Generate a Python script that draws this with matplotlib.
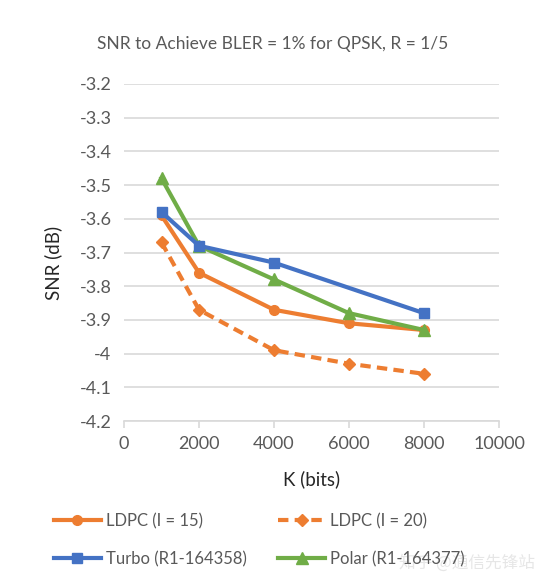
import numpy as np
import matplotlib.pyplot as plt

# data
k_bits = [1000, 2000, 4000, 6000, 8000]
ldpc_15 = [-3.59, -3.76, -3.87, -3.91, -3.93]
ldpc_20 = [-3.67, -3.87, -3.99, -4.03, -4.06]
turbo_k = [1000, 2000, 4000, 8000]
turbo = [-3.58, -3.68, -3.73, -3.88]
polar = [-3.48, -3.68, -3.78, -3.88, -3.93]

x_ticks = [0, 2000, 4000, 6000, 8000, 10000]
y_ticks = [-4.2, -4.1, -4.0, -3.9, -3.8, -3.7, -3.6, -3.5, -3.4, -3.3, -3.2]
y_tick_labels = ['-4.2', '-4.1', '-4', '-3.9', '-3.8', '-3.7', '-3.6', '-3.5', '-3.4', '-3.3', '-3.2']

plt.rcParams['font.family'] = ['Lato', 'DejaVu Sans']

text_col = '#595959'
label_col = '#262626'
grid_col = '#d9d9d9'
orange = '#ed7d31'
blue = '#4472c4'
green = '#70ad47'

fig = plt.figure(figsize=(5.46, 5.85), dpi=100)
ax = fig.add_axes([124 / 546, 1 - 421 / 585, 375 / 546, 337 / 585])

l15, = ax.plot(k_bits, ldpc_15, color=orange, linewidth=3, marker='o', markersize=7,
               label='LDPC (I = 15)', zorder=3)
l20, = ax.plot(k_bits, ldpc_20, color=orange, linewidth=3, linestyle=(0, (2.5, 1.5)),
               marker='D', markersize=6, label='LDPC (I = 20)', zorder=3)
lt, = ax.plot(turbo_k, turbo, color=blue, linewidth=3, marker='s', markersize=7,
              label='Turbo (R1-164358)', zorder=4)
lp, = ax.plot(k_bits, polar, color=green, linewidth=3, marker='^', markersize=8,
              label='Polar (R1-164377)', zorder=3)

ax.set_xlim(0, 10000)
ax.set_ylim(-4.2, -3.2)
ax.set_xticks(x_ticks)
ax.set_xticklabels([str(t) for t in x_ticks])
ax.set_yticks(y_ticks)
ax.set_yticklabels(y_tick_labels)
ax.yaxis.grid(True, color=grid_col, linewidth=1.2)
ax.set_axisbelow(True)

for side in ['top', 'right', 'left']:
    ax.spines[side].set_visible(False)
ax.spines['bottom'].set_color(grid_col)
ax.spines['bottom'].set_linewidth(1.2)
ax.tick_params(axis='y', length=0, pad=9, labelsize=13, labelcolor=text_col)
ax.tick_params(axis='x', length=5, color=grid_col, width=1.2, pad=6,
               labelsize=13, labelcolor=text_col)

ax.set_xlabel('K (bits)', fontsize=13.5, color=label_col)
ax.xaxis.set_label_coords(0.5, -(470 - 421) / 337)
ax.set_ylabel('SNR (dB)', fontsize=13.5, color=label_col)
ax.yaxis.set_label_coords(-(124 - 62) / 375, 0.47)
fig.text(0.5, 1 - 44 / 585, 'SNR to Achieve BLER = 1% for QPSK, R = 1/5',
         ha='center', va='center', fontsize=12.5, color=text_col)

fig.legend([l15, lt, l20, lp], [l.get_label() for l in [l15, lt, l20, lp]],
           loc='center', bbox_to_anchor=(0.475, 1 - 540 / 585), ncol=2,
           frameon=False, fontsize=12, handlelength=2.8, columnspacing=1.9,
           labelspacing=1.3, handletextpad=0.3, labelcolor=text_col)

fig.text(0.98, 1 - 563 / 585, '知乎 @通信先锋站', ha='right', va='center',
         fontsize=12, color='#e4e4e4', alpha=0.9,
         family=['Noto Sans CJK SC', 'DejaVu Sans'])

fig.savefig('out.png', dpi=100)
